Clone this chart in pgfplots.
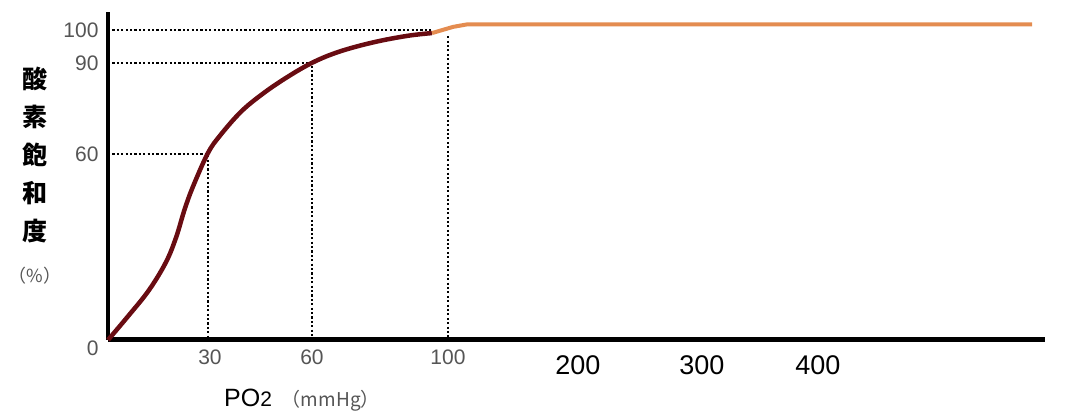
\documentclass[border=0pt]{standalone}
\usepackage{fontspec}
\setmainfont{Liberation Sans}
\newfontfamily\cjk{Noto Sans CJK JP}
\usepackage{pgfplots}
\pgfplotsset{compat=1.18}
\definecolor{curvered}{RGB}{105,12,18}
\definecolor{curveorange}{RGB}{228,140,80}
\definecolor{tickgray}{RGB}{85,85,85}
\begin{document}
\begin{tikzpicture}
\path[use as bounding box] (0pt,0pt) rectangle (1072pt,420pt);
\begin{axis}[
  at={(108pt,80pt)}, anchor=south west,
  scale only axis, width=937pt, height=328pt,
  xmin=0, xmax=275.6, ymin=0, ymax=105.8,
  clip=false,
  axis x line*=bottom, axis y line*=left,
  x axis line style={line width=5pt, black},
  y axis line style={line width=3.5pt, black},
  major tick length=0pt,
  xtick={30,60,100}, ytick={60,89.4,100}, yticklabels={60,90,100},
  /pgf/number format/assume math mode=true,
  tick label style={font=\fontsize{21}{21}\selectfont, text=tickgray},
  xticklabel style={yshift=-6pt},
  yticklabel style={xshift=-6pt},
  extra x ticks={138.2,174.7,208.8},
  extra x tick labels={200,300,400},
  extra x tick style={xticklabel style={text=black, font=\fontsize{27}{27}\selectfont, yshift=-6pt}},
  extra y ticks={0},
  extra y tick style={yticklabel style={yshift=-8pt}},
  ylabel={酸\\素\\飽\\和\\度\\[4pt]{\mdseries\fontsize{18}{18}\selectfont\color{tickgray}（\%）}},
  ylabel style={rotate=-90, at={(axis description cs:0,0.5)}, anchor=center, xshift=-73pt, align=center, font=\cjk\bfseries\fontsize{25}{38}\selectfont},
  xlabel={PO{\fontsize{21}{21}\selectfont 2}\hspace{10pt}{\cjk\fontsize{19}{19}\selectfont\color{tickgray}（mmHg）}},
  xlabel style={at={(axis description cs:0.207,0)}, anchor=center, yshift=-60pt, font=\fontsize{25}{25}\selectfont},
]
% dotted guide lines
\addplot[black, line width=2.1pt, dash pattern=on 2.1pt off 2.3pt] coordinates {(0,60) (29.4,60) (29.4,0)};
\addplot[black, line width=2.1pt, dash pattern=on 2.1pt off 2.3pt] coordinates {(0,89.4) (60,89.4) (60,0)};
\addplot[black, line width=2.1pt, dash pattern=on 2.1pt off 2.3pt] coordinates {(0,100) (95.3,100)};
\addplot[black, line width=2.1pt, dash pattern=on 2.1pt off 2.3pt] coordinates {(100,98) (100,0)};
% dissociation curve
\addplot[curvered, line width=4.5pt, smooth, tension=0.6] coordinates {
(0,0) (6,7.8) (12,16) (17,25) (20,33) (22.5,42) (25,49.5) (29.4,60.3)
(33,66) (39,73.5) (45,79) (52,84.3) (60,89.4) (68,93) (78,96) (88,98.1) (95.3,99.0)};
\addplot[curveorange, line width=4pt] coordinates {
(95.3,99.0) (101.5,101) (105.6,101.8) (271.8,101.8)};
\end{axis}
\end{tikzpicture}
\end{document}
